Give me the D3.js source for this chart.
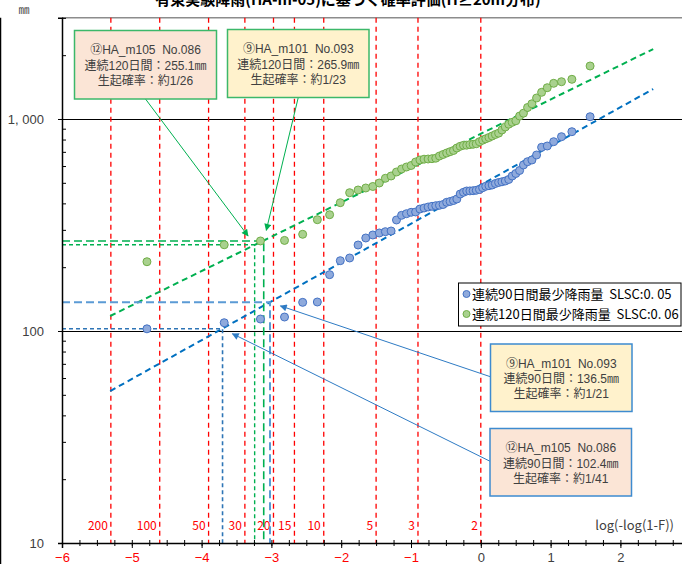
<!DOCTYPE html>
<html>
<head>
<meta charset="utf-8">
<script src="https://cdn.jsdelivr.net/npm/d3@7"></script>
<style>
  body { margin: 0; background: #fff; }
  svg { display: block; font-family: "Noto Sans CJK JP", "Noto Sans", sans-serif; }
  text { white-space: pre; }
  .boxtext { font-family: "Liberation Sans", "Noto Sans CJK JP", sans-serif; }
</style>
</head>
<body>
<svg id="chart" width="682" height="564"></svg>
<script>
// Gumbel reduced variate log(-log(1-F)) of each rank (1..60), shared by both series
const plotX = [-4.783,-3.676,-3.157,-2.812,-2.552,-2.342,-2.166,-2.013,-1.879,-1.758,
  -1.648,-1.547,-1.454,-1.367,-1.285,-1.208,-1.135,-1.065,-0.998,-0.934,
  -0.872,-0.813,-0.755,-0.699,-0.645,-0.592,-0.540,-0.489,-0.440,-0.391,
  -0.343,-0.295,-0.248,-0.202,-0.156,-0.110,-0.065,-0.019,0.026,0.071,
  0.117,0.163,0.209,0.255,0.303,0.351,0.400,0.450,0.502,0.556,
  0.611,0.670,0.732,0.799,0.871,0.952,1.044,1.156,1.305,1.566];

// 連続90日間最少降雨量 (mm), ascending
const rain90 = [102.4,109.4,113.9,116.4,136.5,137.0,184.4,214.6,221.0,254.5,
  274.6,283.7,290.0,294.1,296.3,333.9,351.3,357.5,363.0,364.2,
  376.2,380.3,384.5,387.4,390.0,391.7,395.1,404.6,408.2,412.6,
  419.4,442.8,451.1,457.5,458.0,459.0,461.0,465.0,474.2,481.5,
  484.6,488.3,496.3,501.8,505.6,510.0,518.4,538.5,553.3,571.7,
  606.8,628.9,640.6,676.4,735.4,745.9,781.5,825.2,871.2,1025.3];

// 連続120日間最少降雨量 (mm), ascending
const rain120 = [212.2,255.1,265.9,267.5,285.9,335.0,353.6,402.9,449.1,462.5,
  472.7,480.4,499.0,525.2,538.5,562.3,581.0,593.7,603.5,626.9,
  640.6,646.2,647.6,649.8,653.3,669.1,680.1,691.2,701.1,710.3,
  729.8,743.4,751.5,752.5,757.3,759.8,763.9,781.5,794.3,806.5,
  818.0,831.5,845.1,857.2,887.5,916.9,945.2,964.8,980.6,1033.1,
  1065.0,1133.1,1179.6,1256.2,1336.2,1404.6,1473.6,1499.4,1539.0,1778.3];

// Fitted distribution lines (end points)
const fitX = [-5.31, 2.47];
const fit90 = [52.1, 1385];
const fit120 = [117.7, 2138];

// Return periods (years) and their reduced-variate positions
const periodLabels = ["200","100","50","30","20","15","10","5","3","2"];
const periodX = [-5.30,-4.60,-3.90,-3.38,-2.97,-2.67,-2.25,-1.50,-0.90,0];

const xTicks = [-6,-5,-4,-3,-2,-1,0,1,2];
const yTicks = [10,100,1000];
const yTickLabels = ["10","100","1, 000"];
const yMinor = [20,30,40,50,60,70,80,90,200,300,400,500,600,700,800,900,2000,3000];

const seriesNames = ["連続90日間最少降雨量  SLSC:0. 05","連続120日間最少降雨量  SLSC:0. 06"];

// Highlighted events: value, reduced variate of the estimated return period
const eventNames = ["⑫HA_m105  No.086","⑨HA_m101  No.093","⑨HA_m101  No.093","⑫HA_m105  No.086"];
const eventDur   = ["連続120日間","連続120日間","連続90日間","連続90日間"];
const eventValue = [255.1, 265.9, 136.5, 102.4];
const eventProb  = ["約1/26","約1/23","約1/21","約1/41"];
const eventX     = [-3.24, -3.11, -3.02, -3.70];

const W = 682, H = 564;
const svg = d3.select("#chart");
const x = d3.scaleLinear().domain([-6, 3]).range([62, 690.2]);
const y = d3.scaleLog().domain([10, 3000]).range([543, 17.85]);
const x0 = x(-6), yTop = y(3000), yBot = y(10);

// arrow markers
const defs = svg.append("defs");
[["arrGreen","#00b050"],["arrBlue","#2e7bc4"]].forEach(([id,c]) => {
  defs.append("marker").attr("id", id).attr("viewBox","0 0 10 10")
    .attr("refX", 9).attr("refY", 5).attr("markerWidth", 9).attr("markerHeight", 7)
    .attr("markerUnits","userSpaceOnUse").attr("orient","auto")
    .append("path").attr("d","M0,0 L10,5 L0,10 z").attr("fill", c);
});

// outer frame (left edge) and plot top border
svg.append("line").attr("x1",0.5).attr("x2",0.5).attr("y1",yTop).attr("y2",H).attr("stroke","#000").attr("stroke-width",1.5);
svg.append("line").attr("x1",x0).attr("x2",W).attr("y1",yTop).attr("y2",yTop).attr("stroke","#8c8c8c").attr("stroke-width",1.5);

// title (partly above the visible area)
svg.append("text").attr("x", 348).attr("y", 5).attr("text-anchor","middle")
  .attr("font-size", 15).attr("font-weight","bold").attr("fill","#000")
  .text("有東実験降雨(HA-m-05)に基づく確率評価(H≥20m分布)");
svg.append("text").attr("x", 24).attr("y", 14).attr("text-anchor","middle")
  .attr("font-size", 11).attr("fill","#404040").text("㎜");

// horizontal grid at 100 and 1000
svg.append("g").selectAll("line").data([100,1000]).join("line")
  .attr("x1", x0).attr("x2", W).attr("y1", d => Math.round(y(d)) + 0.5).attr("y2", d => Math.round(y(d)) + 0.5)
  .attr("stroke","#000").attr("stroke-width",1.2);

// return period lines and labels
const pg = svg.append("g");
pg.selectAll("line").data(periodX).join("line")
  .attr("x1", d => x(d)).attr("x2", d => x(d)).attr("y1", yTop).attr("y2", yBot)
  .attr("stroke","#ff0000").attr("stroke-width",1.3).attr("stroke-dasharray","5,4");
pg.selectAll("text").data(periodX).join("text")
  .attr("x", d => x(d) - 3).attr("y", 530).attr("text-anchor","end")
  .attr("font-size", 12).attr("fill","#ff0000").text((d,i) => periodLabels[i]);
svg.append("text").attr("x", 674).attr("y", 530).attr("text-anchor","end")
  .attr("font-size", 13).attr("fill","#404040").text("log(-log(1-F))");

// fitted lines
const fitLine = d3.line().x(d => x(d[0])).y(d => y(d[1]));
svg.append("path").datum(fitX.map((v,i) => [v, fit90[i]])).attr("d", fitLine)
  .attr("fill","none").attr("stroke","#0070c0").attr("stroke-width",2).attr("stroke-dasharray","6,4");
svg.append("path").datum(fitX.map((v,i) => [v, fit120[i]])).attr("d", fitLine)
  .attr("fill","none").attr("stroke","#00b050").attr("stroke-width",2).attr("stroke-dasharray","6,4");

// event reference lines
const evColor = ["#00b050","#00b050","#5b9bd5","#2e75b6"];
const evDash  = ["4,3","8,4","8,4","4,3"];
const evWidth = [1.4,1.6,2,1.6];
eventValue.forEach((v,i) => {
  const path = d3.path();
  path.moveTo(x0, y(v)); path.lineTo(x(eventX[i]), y(v)); path.lineTo(x(eventX[i]), yBot);
  svg.append("path").attr("d", path.toString()).attr("fill","none")
    .attr("stroke", evColor[i]).attr("stroke-width", evWidth[i]).attr("stroke-dasharray", evDash[i]);
});

// axes
const xAxis = svg.append("g").attr("transform", `translate(0,${yBot})`)
  .call(d3.axisBottom(x).tickValues(xTicks).tickSize(5).tickPadding(5).tickFormat(d3.format("d")));
xAxis.select(".domain").attr("stroke","#000").attr("stroke-width",1.5);
xAxis.selectAll("text").attr("font-size",13).attr("font-family","inherit")
  .attr("fill", d => d < 0 ? "#ff0000" : "#404040");
const minorX = d3.range(-6, 3.01, 0.25);
svg.append("g").attr("transform", `translate(0,${yBot})`)
  .call(d3.axisBottom(x).tickValues(minorX).tickSize(3).tickFormat(""))
  .call(g => g.select(".domain").remove());
svg.append("g").attr("transform", `translate(0,${yBot})`)
  .call(d3.axisTop(x).tickValues(minorX).tickSize(3).tickFormat(""))
  .call(g => g.select(".domain").remove());

const yAxis = svg.append("g").attr("transform", `translate(${x0},0)`)
  .call(d3.axisLeft(y).tickValues(yTicks).tickSize(4).tickPadding(14).tickFormat((d,i) => yTickLabels[i]));
yAxis.select(".domain").attr("stroke","#000").attr("stroke-width",1.5);
yAxis.selectAll("text").attr("font-size",13).attr("font-family","inherit").attr("fill","#404040");
svg.append("g").attr("transform", `translate(${x0},0)`)
  .call(d3.axisRight(y).tickValues(yMinor).tickSize(4).tickFormat(""))
  .call(g => g.select(".domain").remove());

// data points
const pts = svg.append("g");
pts.selectAll("circle.s90").data(rain90).join("circle").attr("class","s90")
  .attr("cx", (d,i) => x(plotX[i])).attr("cy", d => y(d)).attr("r", 4)
  .attr("fill","#8faadc").attr("stroke","#4472c4").attr("stroke-width",1);
pts.selectAll("circle.s120").data(rain120).join("circle").attr("class","s120")
  .attr("cx", (d,i) => x(plotX[i])).attr("cy", d => y(d)).attr("r", 4)
  .attr("fill","#a9d18e").attr("stroke","#70ad47").attr("stroke-width",1);

// annotation boxes
const boxes = [
  {x: 74.5, y: 30.5, w: 142, h: 68.5, fill: "#fbe5d6", stroke: "#3cb86a", anchor: "bottom", arrow: "arrGreen", ac: "#00b050"},
  {x: 227.5, y: 29.5, w: 141.5, h: 68, fill: "#fff2cc", stroke: "#3cb86a", anchor: "bottom", arrow: "arrGreen", ac: "#00b050"},
  {x: 490.5, y: 344, w: 141.5, h: 67.5, fill: "#fff2cc", stroke: "#3d8bd0", anchor: "left", arrow: "arrBlue", ac: "#2e7bc4"},
  {x: 490, y: 428.5, w: 141.5, h: 67.5, fill: "#fbe5d6", stroke: "#3d8bd0", anchor: "left", arrow: "arrBlue", ac: "#2e7bc4"}
];
boxes.forEach((b,i) => {
  // arrow from box to the event point on the fitted line
  const sx = b.anchor === "bottom" ? b.x + b.w/2 : b.x;
  const sy = b.anchor === "bottom" ? b.y + b.h : b.y + b.h/2 - 1;
  const tx = x(eventX[i]), ty = y(eventValue[i]);
  const len = Math.hypot(tx - sx, ty - sy), gap = 11;
  svg.append("line").attr("x1", sx).attr("y1", sy)
    .attr("x2", tx - (tx - sx)/len*gap).attr("y2", ty - (ty - sy)/len*gap)
    .attr("stroke", b.ac).attr("stroke-width", 1).attr("marker-end", `url(#${b.arrow})`);
  const g = svg.append("g");
  g.append("rect").attr("x", b.x).attr("y", b.y).attr("width", b.w).attr("height", b.h)
    .attr("fill", b.fill).attr("stroke", b.stroke).attr("stroke-width", 1.5);
  const lines = [eventNames[i], `${eventDur[i]}：${eventValue[i].toFixed(1)}㎜`, `生起確率：${eventProb[i]}`];
  g.selectAll("text").data(lines).join("text").attr("class","boxtext")
    .attr("x", b.x + b.w/2).attr("y", (d,k) => b.y + 19.5 + k*15.2).attr("dy","0.36em")
    .attr("text-anchor","middle").attr("font-size",12).attr("fill","#404040").text(d => d);
});

// legend
const lg = svg.append("g");
lg.append("rect").attr("x", 458.5).attr("y", 283).attr("width", 222.5).attr("height", 43)
  .attr("fill","#fff").attr("stroke","#000").attr("stroke-width",1);
const legFill = ["#8faadc","#a9d18e"], legStroke = ["#4472c4","#70ad47"];
seriesNames.forEach((s,i) => {
  lg.append("circle").attr("cx", 466.5).attr("cy", 294 + i*20).attr("r", 3.5)
    .attr("fill", legFill[i]).attr("stroke", legStroke[i]).attr("stroke-width",1);
  lg.append("text").attr("x", 472).attr("y", 294 + i*20).attr("dy","0.36em")
    .attr("font-size",13).attr("fill","#000").text(s);
});
</script>
</body>
</html>
